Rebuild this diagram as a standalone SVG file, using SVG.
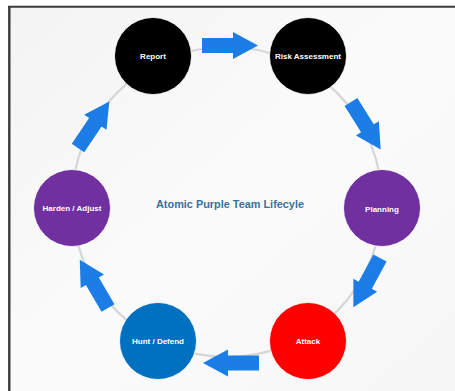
<svg xmlns="http://www.w3.org/2000/svg" width="455" height="391" viewBox="0 0 455 391">
  <defs>
    <linearGradient id="bg" x1="0" y1="0" x2="1" y2="1">
      <stop offset="0" stop-color="#f3f3f3"/>
      <stop offset="0.5" stop-color="#fbfbfb"/>
      <stop offset="1" stop-color="#f6f6f6"/>
    </linearGradient>
    <!-- block arrow pointing right, tail at x=0, tip at x=56 -->
    <path id="blockArrow" d="M0,-7.5 H31 V-13.5 L56,0 L31,13.5 V7.5 H0 Z"/>
    <style>
      .node circle { stroke: #ffffff; stroke-width: 0.8; }
      .label { font-family: "Liberation Sans", Arial, sans-serif; font-size: 8px; font-weight: bold; fill: #ffffff; text-anchor: middle; dominant-baseline: central; }
      .arrow { fill: #1c7de6; }
      .ring { fill: none; stroke: #d6d6d6; stroke-width: 2.2; }
      .title { font-family: "Liberation Sans", Arial, sans-serif; font-size: 10.5px; font-weight: bold; fill: #3b6f9c; text-anchor: middle; dominant-baseline: central; }
    </style>
  </defs>

  <!-- backdrop and frame -->
  <rect x="0" y="0" width="455" height="391" fill="#ffffff"/>
  <rect x="9" y="7" width="446" height="384" fill="url(#bg)"/>
  <line x1="8" y1="6.8" x2="455" y2="6.8" stroke="#3a3a3a" stroke-width="2"/>
  <line x1="9.3" y1="6" x2="9.3" y2="391" stroke="#3a3a3a" stroke-width="2.4"/>

  <!-- cycle ring and arrows -->
  <g id="connectors">
    <circle class="ring" cx="227" cy="202" r="155"/>
    <use href="#blockArrow" class="arrow" transform="translate(202,45.5)"/>
    <use href="#blockArrow" class="arrow" transform="translate(351,102) rotate(58)"/>
    <use href="#blockArrow" class="arrow" transform="translate(380,258) rotate(118.4)"/>
    <use href="#blockArrow" class="arrow" transform="translate(259,363) rotate(180)"/>
    <use href="#blockArrow" class="arrow" transform="translate(108,308) rotate(-120.3)"/>
    <use href="#blockArrow" class="arrow" transform="translate(78,148) rotate(-56)"/>
  </g>

  <g id="report" class="node">
    <circle cx="153" cy="56" r="38.5" fill="#000000"/>
    <text class="label" x="153" y="56">Report</text>
  </g>
  <g id="risk-assessment" class="node">
    <circle cx="308" cy="56" r="38.5" fill="#000000"/>
    <text class="label" x="308" y="56">Risk Assessment</text>
  </g>
  <g id="planning" class="node">
    <circle cx="382" cy="208" r="38.5" fill="#7030a0"/>
    <text class="label" x="382" y="209">Planning</text>
  </g>
  <g id="attack" class="node">
    <circle cx="308" cy="341" r="38.5" fill="#ff0000"/>
    <text class="label" x="308" y="341">Attack</text>
  </g>
  <g id="hunt-defend" class="node">
    <circle cx="158" cy="341" r="38.5" fill="#0070c0"/>
    <text class="label" x="158" y="341">Hunt / Defend</text>
  </g>
  <g id="harden-adjust" class="node">
    <circle cx="72" cy="208" r="38.5" fill="#7030a0"/>
    <text class="label" x="72" y="208">Harden / Adjust</text>
  </g>

  <text class="title" x="230" y="204" textLength="148" lengthAdjust="spacingAndGlyphs">Atomic Purple Team Lifecyle</text>
</svg>
